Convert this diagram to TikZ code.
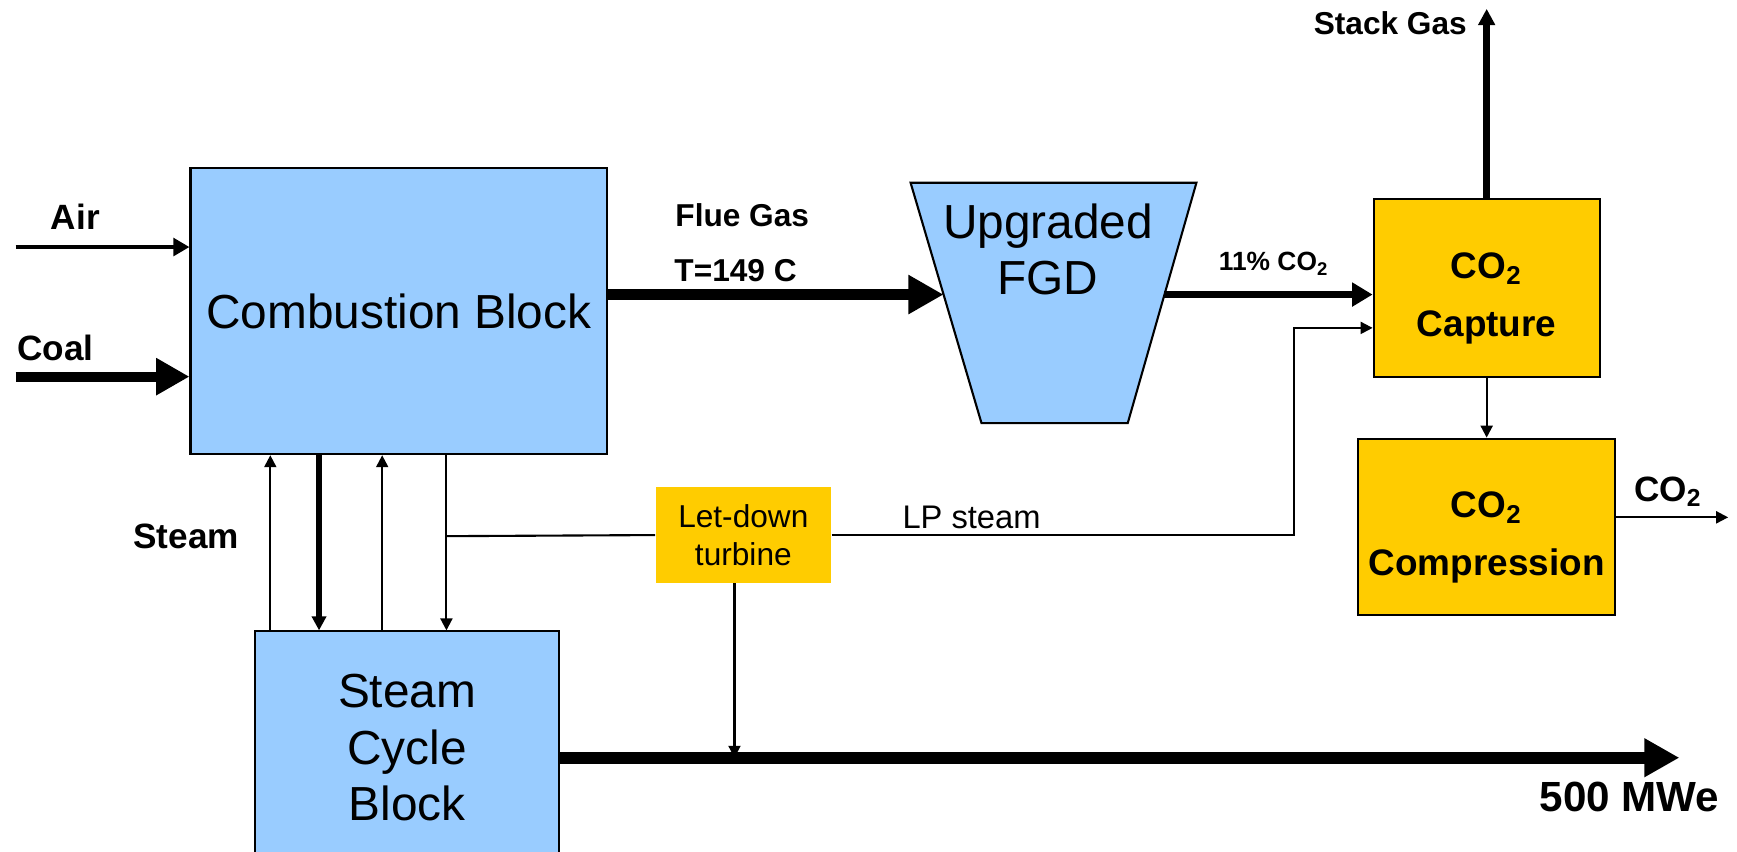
\documentclass[tikz,border=0pt]{standalone}
\usepackage{fontspec}
\setmainfont{Liberation Sans}
\usepackage{xcolor}
\usetikzlibrary{positioning,arrows.meta,calc}
\definecolor{blockblue}{HTML}{99CCFF}
\definecolor{capyellow}{HTML}{FFCC00}
\newcommand\pxu{0.011078cm}

\begin{document}
\begin{tikzpicture}[x=\pxu, y=-\pxu,
  blk/.style={draw, line width=0.6pt, fill=blockblue, align=center, inner sep=0pt, font=\fontsize{13.6}{16}\selectfont},
  ybox/.style={draw, line width=0.6pt, fill=capyellow, align=center, inner sep=0pt, text height=30pt, font=\bfseries\fontsize{10.5}{16.5}\selectfont},
  turb/.style={fill=capyellow, align=center, inner sep=0pt, font=\fontsize{9}{11}\selectfont},
  lbl/.style={font=\bfseries\fontsize{10}{12}\selectfont},
  slbl/.style={font=\bfseries\fontsize{9}{11}\selectfont},
  thinarr/.style={line width=0.6pt, -{Triangle[length=3.4pt, width=3.4pt]}},
  thinline/.style={line width=0.6pt}]
\useasboundingbox (0,0) rectangle (1568,769);
\clip (0,0) rectangle (1568,769);
% blocks
\node[blk, minimum width=376*\pxu, minimum height=258*\pxu] (comb) at (360,281) {Combustion Block};
\node[blk, minimum width=275*\pxu, minimum height=210*\pxu] (steam) at (367.5,675) {Steam\\Cycle\\Block};
\node[ybox, minimum width=204*\pxu, minimum height=160*\pxu] (cap) at (1342,260) {CO\textsubscript{2}\\Capture};
\node[ybox, minimum width=232*\pxu, minimum height=159*\pxu] (comp) at (1342,475.5) {CO\textsubscript{2}\\Compression};
\node[turb, minimum width=158*\pxu, minimum height=86*\pxu] (ldt) at (671,483) {Let-down\\turbine};
% FGD trapezoid
\coordinate (fgdtl) at (822,165);
\coordinate (fgdtr) at (1080,165);
\coordinate (fgdbr) at (1018,382);
\coordinate (fgdbl) at (886,382);
\filldraw[fill=blockblue, line width=0.6pt] (fgdtl) -- (fgdtr) -- (fgdbr) -- (fgdbl) -- cycle;
\node[font=\fontsize{13.6}{15.8}\selectfont, align=center] (fgd) at (946,225) {Upgraded\\FGD};
\coordinate (fgdin) at ($(fgdtl)!0.465!(fgdbl)$);
\coordinate (fgdout) at ($(fgdtr)!0.465!(fgdbr)$);
% labels
\node[lbl] (airlbl) at (68,196) {Air};
\node[lbl] (coallbl) at (50,314) {Coal};
\node[lbl] (steamlbl) at (168,484) {Steam};
\node[slbl] (fluelbl) at (670,194) {Flue Gas};
\node[slbl] (templbl) at (664,244) {T=149 C};
\node[font=\bfseries\fontsize{7.5}{9}\selectfont] (pctlbl) at (1150,238) {11\% CO\textsubscript{2}};
\node[slbl] (stacklbl) at (1255,21) {Stack Gas};
\node[font=\fontsize{9.3}{11}\selectfont] (lplbl) at (877,467) {LP steam};
\node[lbl] (co2lbl) at (1506,444) {CO\textsubscript{2}};
\node[font=\bfseries\fontsize{12}{14}\selectfont] (mwelbl) at (1471,719) {500 MWe};
% coordinates for free ends
\coordinate (airin) at (14,223);
\coordinate (coalin) at (14,340);
\coordinate (stacktop) at (1342,8);
\coordinate (lpbend) at (1168,296);
\coordinate (co2out) at (1560,467);
\coordinate (split) at (403,484);
\coordinate (pwrjoin) at (663,684);
\coordinate (pwrend) at (1516,684);
% streams
\draw[line width=1.3pt, -{Triangle[length=4.6pt, width=5pt]}] (airin) -- (airin -| comb.west);
\draw[line width=2.8pt, -{Triangle[length=9.5pt, width=10pt]}] (coalin) -- (coalin -| comb.west);
\draw[line width=3.2pt, -{Triangle[length=10pt, width=10.5pt]}] (comb.east |- fgdin) -- (fgdin);
\draw[line width=1.8pt, -{Triangle[length=5.8pt, width=6.5pt]}] (fgdout) -- (fgdout -| cap.west);
\draw[line width=1.9pt, -{Triangle[length=4.6pt, width=4.6pt]}] (cap.north) -- (stacktop);
\draw[thinarr] (cap.south) -- (comp.north);
\draw[thinarr] (co2out -| comp.east) -- (co2out);
\draw[thinarr] (ldt.east) -| (lpbend) -- (lpbend -| cap.west);
% steam loops
\foreach \x in {244,345}
  \draw[thinarr] (steam.north -| \x,0) -- (comb.south -| \x,0);
\draw[line width=1.6pt, -{Triangle[length=4pt, width=4pt]}] (comb.south -| 288,0) -- (steam.north -| 288,0);
\draw[thinarr] (comb.south -| split) -- (steam.north -| split);
\draw[thinline] (split) -- (ldt.west);
\draw[thinarr] (ldt.south -| pwrjoin) -- (pwrjoin);
\draw[line width=3.5pt, -{Triangle[length=10pt, width=10.4pt]}] (steam.east |- pwrend) -- (pwrend);
\end{tikzpicture}
\end{document}
